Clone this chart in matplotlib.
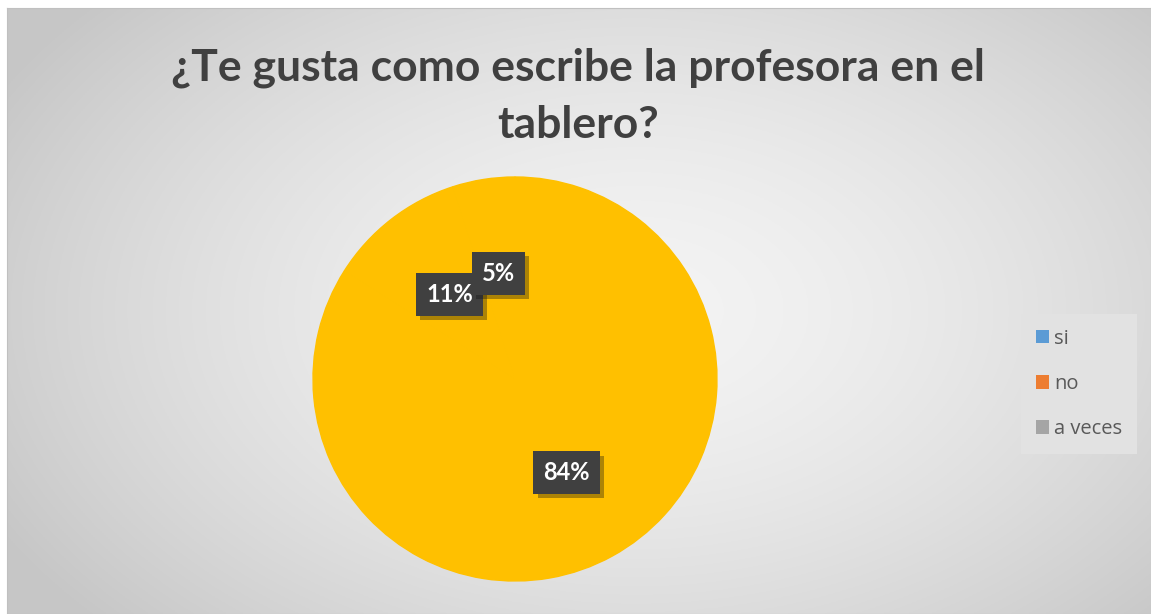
import matplotlib.pyplot as plt
import matplotlib.patheffects as pe
from matplotlib.patches import Patch
import numpy as np

categories = ["si", "no", "a veces"]
values = [84, 11, 5]
legend_colors = ["#5B9BD5", "#ED7D31", "#A5A5A5"]
slice_color = "#FFC000"
title = "¿Te gusta como escribe la profesora en el\ntablero?"

W, H = 1151, 614
fig = plt.figure(figsize=(W / 100, H / 100), dpi=100)
fig.patch.set_facecolor("white")

# radial grey background of the chart area
bg = fig.add_axes([7 / W, 0, (W - 7) / W, (H - 8) / H])
yy, xx = np.mgrid[0:1:300j, 0:1:600j]
r = np.sqrt(((xx - 0.55) / 0.62) ** 2 + ((yy - 0.5) / 0.75) ** 2)
shade = np.clip(0.955 - 0.17 * r ** 1.6, 0.78, 0.96)
bg.imshow(np.dstack([shade] * 3), aspect="auto", extent=(0, 1, 0, 1), origin="lower")
bg.set_xticks([])
bg.set_yticks([])
for s in bg.spines.values():
    s.set_color("#c0c0c0")
    s.set_linewidth(0.8)

fig.text(578 / W, 1 - 96 / H, title, ha="center", va="center", fontsize=32,
         fontweight="bold", color="#404040", family="Lato", linespacing=1.5)

cx, cy, rad = 515, 379, 202
ax = fig.add_axes([(cx - rad) / W, (H - cy - rad) / H, 2 * rad / W, 2 * rad / H])
wedges, _, autotexts = ax.pie(values, colors=[slice_color] * len(values), startangle=90,
                              counterclock=False, autopct="%1.0f%%", pctdistance=0.53,
                              wedgeprops=dict(edgecolor=slice_color, linewidth=1),
                              textprops=dict(color="white", fontsize=17, fontweight="bold",
                                             family="Lato"))
ax.set_xlim(-1, 1)
ax.set_ylim(-1, 1)
ax.set_aspect("equal")
for t in autotexts:
    t.set_bbox(dict(boxstyle="square,pad=0.42", facecolor="#404040", edgecolor="none"))
    t.get_bbox_patch().set_path_effects([pe.SimplePatchShadow(offset=(3, -3), alpha=0.35),
                                         pe.Normal()])

handles = [Patch(facecolor=c, edgecolor="none") for c in legend_colors]
leg = fig.legend(handles, categories, loc="center", bbox_to_anchor=(1079 / W, 1 - 384 / H),
                 frameon=True, labelcolor="#595959", handlelength=0.65,
                 handleheight=0.65, handletextpad=0.25, labelspacing=1.25, borderpad=0.75,
                 borderaxespad=0, fancybox=False, prop=dict(family="Open Sans", size=14.5))
leg.get_frame().set_facecolor("#e2e2e2")
leg.get_frame().set_edgecolor("none")
leg.get_frame().set_alpha(1)

fig.savefig("out.png", dpi=100)
